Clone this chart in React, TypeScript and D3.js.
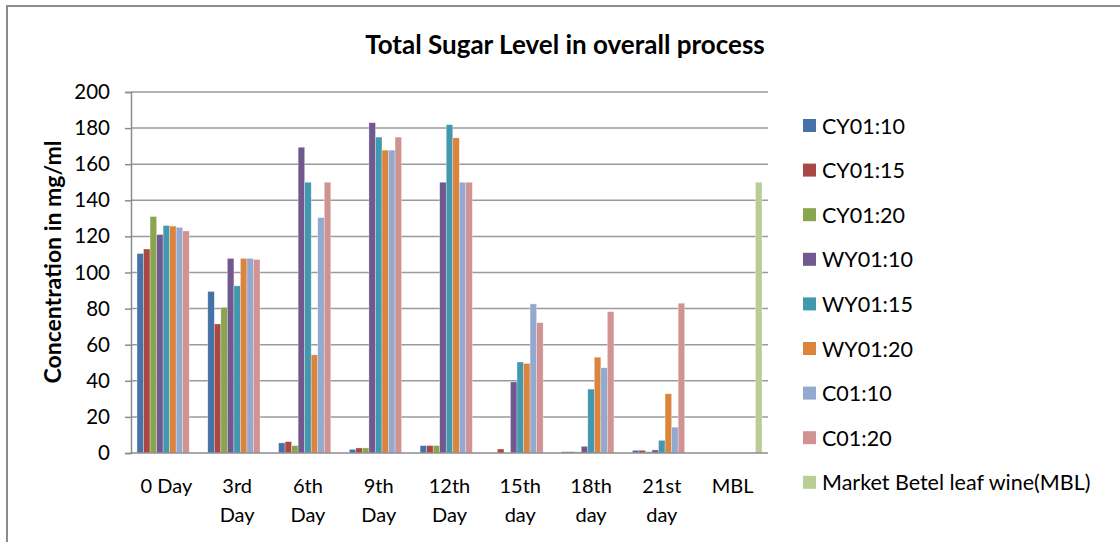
import React, { useEffect, useRef } from 'react';
import * as d3 from 'd3';

const categories = ['0 Day', '3rd|Day', '6th|Day', '9th|Day', '12th|Day', '15th|day', '18th|day', '21st|day', 'MBL'];

const seriesNames = ['CY01:10', 'CY01:15', 'CY01:20', 'WY01:10', 'WY01:15', 'WY01:20', 'C01:10', 'C01:20', 'Market Betel leaf wine(MBL)'];

const cy0110 = [110.5, 89.5, 5.6, 2, 4.1, 0, 0.7, 1.5, 0];
const cy0115 = [113, 71.5, 6.3, 2.8, 4.1, 2.2, 0.7, 1.5, 0];
const cy0120 = [131, 80.7, 4.1, 2.8, 4.1, 0, 0.6, 0.7, 0];
const wy0110 = [121, 107.8, 169.4, 183, 150, 39.4, 3.7, 1.7, 0];
const wy0115 = [126, 92.6, 150, 175, 181.9, 50.4, 35.4, 7, 0];
const wy0120 = [125.7, 107.8, 54.4, 167.8, 174.6, 49.6, 53.1, 32.8, 0];
const c0110 = [125, 107.8, 130.4, 167.8, 150, 82.6, 47.2, 14.3, 0];
const c0120 = [123, 107.2, 150, 175, 150, 72.2, 78.3, 83, 0];
const mbl = [0, 0, 0, 0, 0, 0, 0, 0, 150];

const seriesValues = [cy0110, cy0115, cy0120, wy0110, wy0115, wy0120, c0110, c0120, mbl];

const colors = ['#4572A7', '#AA4643', '#89A54E', '#71588F', '#4198AF', '#DB843D', '#93A9CF', '#D19392', '#B9CD96'];

const yTicks = [0, 20, 40, 60, 80, 100, 120, 140, 160, 180, 200];

const FONT = 'Lato, "Open Sans", sans-serif';

export default function App() {
  const svgRef = useRef<SVGSVGElement>(null);

  useEffect(() => {
    if (!svgRef.current) return;
    const svg = d3.select(svgRef.current);
    svg.selectAll('*').remove();

    const width = 1120;
    const height = 542;
    const margin = { top: 92, right: 352, bottom: 89, left: 131 };
    const chartWidth = width - margin.left - margin.right;
    const chartHeight = height - margin.top - margin.bottom;

    // Outer chart frame
    svg.append('rect')
      .attr('x', 7).attr('y', 6)
      .attr('width', 1125).attr('height', 560)
      .attr('fill', 'white')
      .attr('stroke', '#8c8c8c')
      .attr('stroke-width', 2);

    // Title
    svg.append('text')
      .attr('x', 565)
      .attr('y', 54)
      .attr('text-anchor', 'middle')
      .attr('font-family', FONT)
      .attr('font-weight', 'bold')
      .attr('font-size', 26)
      .attr('fill', '#000')
      .text('Total Sugar Level in overall process');

    const g = svg.append('g').attr('transform', `translate(${margin.left},${margin.top})`);

    const x0 = d3.scaleBand<string>().domain(categories).range([0, chartWidth]).padding(0);
    const gap = x0.bandwidth() * 0.17;
    const x1 = d3.scaleBand<number>()
      .domain(d3.range(seriesNames.length))
      .range([gap / 2, x0.bandwidth() - gap / 2])
      .padding(0);
    const y = d3.scaleLinear().domain([0, 200]).range([chartHeight, 0]);

    // Gridlines
    g.append('g')
      .selectAll('line')
      .data(yTicks.filter(t => t > 0))
      .enter()
      .append('line')
      .attr('x1', 0)
      .attr('x2', chartWidth)
      .attr('y1', d => y(d))
      .attr('y2', d => y(d))
      .attr('stroke', '#9a9a9a')
      .attr('stroke-width', 1.5);

    // Y axis
    const yAxis = g.append('g')
      .call(d3.axisLeft(y).tickValues(yTicks).tickSize(6).tickPadding(15).tickFormat(d3.format('d')));
    yAxis.select('.domain').attr('stroke', '#8c8c8c').attr('stroke-width', 1.5);
    yAxis.selectAll('.tick line').attr('stroke', '#8c8c8c').attr('stroke-width', 1.5);
    yAxis.selectAll('.tick text')
      .attr('font-family', FONT)
      .attr('font-size', 20.5)
      .attr('fill', '#000');

    // Bars
    const groups = g.append('g')
      .selectAll('g')
      .data(seriesValues)
      .enter()
      .append('g')
      .attr('fill', (_, i) => colors[i]);

    groups.selectAll('rect')
      .data((vals, si) => vals.map((v, ci) => ({ v, ci, si })))
      .enter()
      .filter(d => d.v > 0)
      .append('rect')
      .attr('x', d => (x0(categories[d.ci]) || 0) + (x1(d.si) || 0))
      .attr('y', d => y(d.v))
      .attr('width', x1.bandwidth())
      .attr('height', d => chartHeight - y(d.v))
      .attr('stroke', 'rgba(255,255,255,0.5)')
      .attr('stroke-width', 0.6);

    // X axis line
    g.append('line')
      .attr('x1', 0).attr('x2', chartWidth)
      .attr('y1', chartHeight).attr('y2', chartHeight)
      .attr('stroke', '#8c8c8c')
      .attr('stroke-width', 1.5);

    // Category labels (two lines)
    const catLabels = g.append('g')
      .selectAll('text')
      .data(categories)
      .enter()
      .append('text')
      .attr('x', d => (x0(d) || 0) + x0.bandwidth() / 2)
      .attr('y', chartHeight + 40)
      .attr('text-anchor', 'middle')
      .attr('font-family', FONT)
      .attr('font-size', 20)
      .attr('fill', '#000');
    catLabels.each(function (d) {
      const parts = d.split('|');
      const t = d3.select(this);
      parts.forEach((p, i) => {
        t.append('tspan')
          .attr('x', (x0(d) || 0) + x0.bandwidth() / 2)
          .attr('dy', i === 0 ? 0 : 29)
          .text(p);
      });
    });

    // Y axis title
    svg.append('text')
      .attr('transform', `translate(61,${262}) rotate(-90)`)
      .attr('text-anchor', 'middle')
      .attr('font-family', FONT)
      .attr('font-weight', 'bold')
      .attr('font-size', 23)
      .attr('fill', '#000')
      .text('Concentration in mg/ml');

    // Legend
    const legend = svg.append('g').attr('transform', 'translate(803,126)');
    const items = legend.selectAll('g')
      .data(seriesNames)
      .enter()
      .append('g')
      .attr('transform', (_, i) => `translate(0,${i * 44.6})`);
    items.append('rect')
      .attr('x', 0).attr('y', -7)
      .attr('width', 13).attr('height', 13)
      .attr('fill', (_, i) => colors[i]);
    items.append('text')
      .attr('x', 19)
      .attr('y', 7.5)
      .attr('font-family', FONT)
      .attr('font-size', 21.5)
      .attr('fill', '#000')
      .text(d => d);
  }, []);

  return (
    <div style={{ position: 'fixed', left: 0, top: 0, width: 1120, height: 542, background: '#fff' }}>
      <svg ref={svgRef} width={1120} height={542} style={{ display: 'block' }} />
    </div>
  );
}
